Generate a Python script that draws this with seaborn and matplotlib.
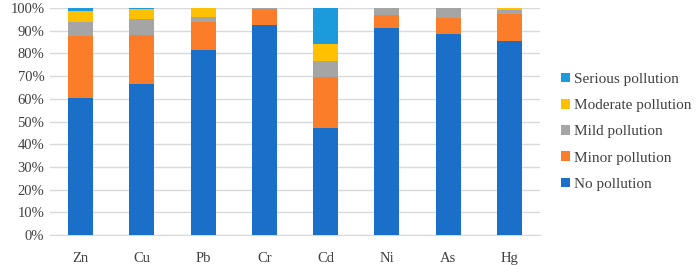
import numpy as np
import matplotlib.pyplot as plt
import seaborn as sns

metals = ['Zn', 'Cu', 'Pb', 'Cr', 'Cd', 'Ni', 'As', 'Hg']

# доли (%) по классам загрязнения
no_pollution = [60.5, 66.5, 81.5, 92.6, 47.0, 91.2, 88.5, 85.3]
minor_pollution = [27.0, 21.5, 12.2, 7.1, 22.5, 5.8, 7.2, 12.0]
mild_pollution = [6.5, 7.0, 2.3, 0.3, 7.0, 3.0, 4.3, 1.7]
moderate_pollution = [4.5, 4.4, 4.0, 0.0, 7.8, 0.0, 0.0, 1.0]
serious_pollution = [1.5, 0.6, 0.0, 0.0, 15.7, 0.0, 0.0, 0.0]

classes = ['No pollution', 'Minor pollution', 'Mild pollution',
           'Moderate pollution', 'Serious pollution']
series = [no_pollution, minor_pollution, mild_pollution,
          moderate_pollution, serious_pollution]
colors = ['#1a70c8', '#fb7d2a', '#a5a5a5', '#ffc000', '#1c9bdc']

sns.set_style('white')
plt.rcParams['font.family'] = ['Liberation Serif', 'DejaVu Serif']

fig = plt.figure(figsize=(6.99, 2.65), dpi=100)
ax = fig.add_axes([0.0715, 0.113, 0.701, 0.857])

bottom = np.zeros(len(metals))
for name, vals, col in zip(classes, series, colors):
    sns.barplot(x=metals, y=vals, bottom=bottom, color=col, width=0.41,
                saturation=1, errorbar=None, label=name, ax=ax, zorder=3,
                linewidth=0)
    bottom += np.array(vals)

ax.set_ylim(0, 100)
ax.set_xlim(-0.5, len(metals) - 0.5)
ax.set_yticks(np.arange(0, 101, 10))
ax.set_yticklabels([f'{v}%' for v in range(0, 101, 10)])
ax.yaxis.grid(True, color='#d9d9d9', linewidth=1, zorder=0)
ax.set_axisbelow(True)
for s in ['top', 'right', 'left']:
    ax.spines[s].set_visible(False)
ax.spines['bottom'].set_color('#d9d9d9')
ax.tick_params(axis='both', length=0, labelsize=10.5, colors='#404040', pad=4)
ax.tick_params(axis='x', pad=12)

handles, labels = ax.get_legend_handles_labels()
ax.legend(handles[::-1], labels[::-1], loc='center left',
          bbox_to_anchor=(1.015, 0.455), frameon=False, fontsize=11,
          handlelength=0.6, handleheight=0.6, handletextpad=0.25,
          labelspacing=0.85, labelcolor='#404040')

fig.savefig('out.png', dpi=100)
